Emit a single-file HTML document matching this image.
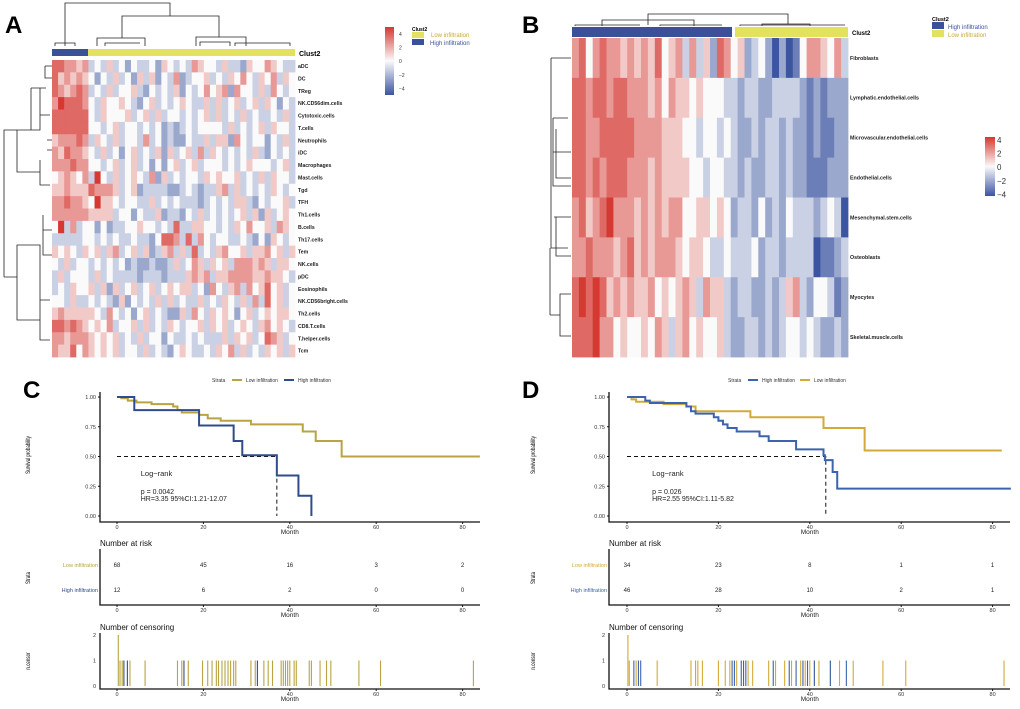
<!DOCTYPE html>
<html><head><meta charset="utf-8"><style>
body{margin:0;background:#fff;}
svg{display:block;font-family:"Liberation Sans",sans-serif;}
</style></head><body>
<svg id="fig" width="1020" height="709" viewBox="0 0 1020 709">
<g id="gA"></g>
<g id="gB"></g>
<g id="gC"></g>
<g id="gD"></g>
</svg>
<script>
// ---------- DATA ----------
const rowsA = ["aDC","DC","TReg","NK.CD56dim.cells","Cytotoxic.cells","T.cells","Neutrophils","iDC","Macrophages","Mast.cells","Tgd","TFH","Th1.cells","B.cells","Th17.cells","Tem","NK.cells","pDC","Eosinophils","NK.CD56bright.cells","Th2.cells","CD8.T.cells","T.helper.cells","Tcm"];
// digit 0..8 => z-score -4..4
const valsA = [
"7766563435342433425434365443533254465433",
"7565654243534253524362344534354643546354",
"7656763435344532434352434645626443536434",
"6877764354454324534345433535345345354243",
"7777774354445345353443434535343534334353",
"7777774434534434342323434444353434535443",
"5666763543534436342322433535526434424353",
"6576654353424534352534536354343435324343",
"6667664434534534242453453444343454443453",
"4565463843534543625343443545445343535443",
"5565557666534523333223432335635343435434",
"6676654855434433534343332343435532434453",
"6666665555344243352332435343434535253454",
"4836344242334454434373355443435464453654",
"3333344343433433247763736434433432425434",
"5454354535634535235635373435644535564535",
"4353443434342322322353465354536665653554",
"3534443534333323332333565635566665565543",
"3435445352534534534545534264356364574534",
"4435334343252434353534335343543536374534",
"5655555436434245343225364354542453454554",
"7767654546344535343543445354534543564543",
"6656665454534353442433434333535453476534",
"6557465454534435343245433435463534354535"];
const rowsB = ["Fibroblasts","Lymphatic.endothelial.cells","Microvascular.endothelial.cells","Endothelial.cells","Mesenchymal.stem.cells","Osteoblasts","Myocytes","Skeletal.muscle.cells"];
const valsB = [
"6746766565657456363527645234202014665463",
"7767767766656465545444332332233332121222",
"7766777776666555443443432232332322121122",
"7767677766656555544344332322332322111222",
"6756786665656566445545423324232433323430",
"6676665675656665455433433342332333301123",
"7878756565564545653655323322323563244312",
"7778664544546535645445322332323443432232"];
// Survival data (month, survival)
const cLowT = [0,1,2.5,4.5,8,13,14,15,19,21,24,31,43,46,52];
const cLowS = [1,0.99,0.97,0.955,0.94,0.92,0.89,0.87,0.85,0.82,0.80,0.77,0.71,0.63,0.50];
const cHighT = [0,4,19,27,29,37,42,45];
const cHighS = [1,0.89,0.76,0.63,0.51,0.34,0.17,0.0];
const dHighT = [0,4,5,13,14,15,19,20,21,22,24,29,31,37,43,43.3,45,46];
const dHighS = [1,0.97,0.95,0.92,0.88,0.86,0.83,0.80,0.77,0.74,0.71,0.67,0.63,0.56,0.51,0.47,0.37,0.23];
const dLowT = [0,1,2,8,13,15,27,43,52];
const dLowS = [1,0.98,0.96,0.94,0.92,0.88,0.83,0.74,0.55];
const riskTicks = [0,20,40,60,80];
const cRiskLow = [68,45,16,3,2];
const cRiskHigh = [12,6,2,0,0];
const dRiskLow = [34,23,8,1,1];
const dRiskHigh = [46,28,10,2,1];
const cCensLow = [[0.3,2],[0.7,1],[1.2,1],[3,1],[6.5,1],[14,1],[15,1],[16.5,1],[19.8,1],[21,1],[22,1],[23,1],[23.5,1],[24.3,1],[25,1],[25.7,1],[26.3,1],[27,1],[27.5,1],[31,1],[32,1],[34,1],[35,1],[36,1],[38,1],[38.5,1],[39,1],[39.5,1],[40,1],[41,1],[41.5,1],[44.5,1],[45,1],[47,1],[48.5,1],[49.5,1],[56,1],[61,1],[82.5,1]];
const cCensHigh = [[1.6,1],[2.4,1],[15.5,1],[32.5,1]];
const dCensLow = [[0.2,2],[0.5,1],[2,1],[6.6,1],[14,1],[15,1],[15.5,1],[16.5,1],[20,1],[21.5,1],[22.5,1],[24,1],[26.5,1],[27.5,1],[31,1],[32.5,1],[34.5,1],[36,1],[38,1],[39,1],[40,1],[41,1],[42,1],[44.5,1],[46.5,1],[49.5,1],[56,1],[61,1],[82.5,1]];
const dCensHigh = [[1.5,1],[2.5,1],[3,1],[23,1],[23.5,1],[25,1],[25.5,1],[26,1],[32,1],[35.5,1],[37,1],[38.5,1],[39.5,1],[41,1],[44.5,1],[48,1]];

// ---------- HELPERS ----------
const NS="http://www.w3.org/2000/svg";
function mk(p,tag,at,txt){const e=document.createElementNS(NS,tag);for(const k in at)e.setAttribute(k,at[k]);if(txt!==undefined)e.textContent=txt;p.appendChild(e);return e;}
function col(v){ // v -4..4
  const lo=[59,85,160],hi=[214,56,50],w=[250,250,250];
  let t=Math.max(-1,Math.min(1,v/4)),a=t<0?lo:hi,f=Math.abs(t);
  return "rgb("+w.map((c,i)=>Math.round(c+(a[i]-c)*f)).join(",")+")";
}
function heat(g,rows,vals,x0,y0,w,h,lx,fs){
  const rh=h/rows.length;
  rows.forEach((r,i)=>{
    const s=vals[i],cw=w/s.length;
    for(let j=0;j<s.length;j++){
      const c=mk(g,"rect",{x:x0+j*cw,y:y0+i*rh,width:cw+0.4,height:rh+0.4,fill:col(+s[j]-4)});
      
      
    }
    const t=mk(g,"text",{x:lx,y:y0+i*rh+rh/2+fs*0.35,"font-size":fs,"font-weight":"bold",fill:"#222"},r);
    
    
  });
}
function lines(g,d,name){const p=mk(g,"path",{d:d,stroke:"#222","stroke-width":0.8,fill:"none"});}

// ---------- PANEL A ----------
const gA=document.getElementById("gA");
mk(gA,"text",{x:5,y:33,"font-size":24,"font-weight":"bold"},"A");
mk(gA,"rect",{x:52,y:49,width:36,height:7,fill:"#3A5199"});
mk(gA,"rect",{x:88,y:49,width:207,height:7,fill:"#E2E25E"});
mk(gA,"text",{x:299,y:56,"font-size":7,"font-weight":"bold"},"Clust2");
heat(gA,rowsA,valsA,52,60,243,297,298,5.2);
lines(gA,"M65 46V3H170V16 M122 38V16H219V37 M97 46V38H145V46 M196 46V37H246V46 M55 46V43H75V46 M105 46V43H140 M200 46V42H230V46 M235 46V43H290V46",'column-dendrogram');
lines(gA,"M4 277V130H31V88 M31 88H46 M31 88V103 M17 130V172H40 M17 130H40V88 M40 100V115H50 M40 160V185H50 M4 277H17V245H40V300H50 M17 245V320H40 M40 300V340H50 M45 66H52 M45 66V78H52 M47 140H52 M47 150H52 M43 215V255H52 M43 230H52",'row-dendrogram');
// colorbar A
const gradA=mk(gA,"defs",{});
const lgA=mk(gradA,"linearGradient",{id:"cbA",x1:0,y1:0,x2:0,y2:1});
[[0,col(4)],[0.5,col(0)],[1,col(-4)]].forEach(s=>mk(lgA,"stop",{offset:s[0],"stop-color":s[1]}));
mk(gA,"rect",{x:385,y:27,width:9,height:68,fill:"url(#cbA)"});
["4","2","0","−2","−4"].forEach((t,i)=>mk(gA,"text",{x:399,y:36+i*13.6,"font-size":5,fill:"#333"},t));
mk(gA,"text",{x:412,y:31,"font-size":5,"font-weight":"bold"},"Clust2");
mk(gA,"rect",{x:412,y:32,width:12,height:6,fill:"#E2E25E"});
mk(gA,"rect",{x:412,y:39,width:12,height:6,fill:"#3A5199"});
mk(gA,"text",{x:431,y:37,"font-size":6,fill:"#C8A838"},"Low infiltration");
mk(gA,"text",{x:430,y:45,"font-size":6,fill:"#3A5199"},"High infiltration");

// ---------- PANEL B ----------
const gB=document.getElementById("gB");
mk(gB,"text",{x:522,y:33,"font-size":24,"font-weight":"bold"},"B");
mk(gB,"rect",{x:572,y:27,width:160,height:10,fill:"#3A5199"});
mk(gB,"rect",{x:735,y:27,width:113,height:10,fill:"#E2E25E"});
mk(gB,"text",{x:852,y:35,"font-size":6,"font-weight":"bold"},"Clust2");
heat(gB,rowsB,valsB,572,38,276,319,850,5.3);
lines(gB,"M648 25V14H788V24 M602 26V20H694V26 M762 26V24H810V26 M575 26V25H640 M660 26V25H722 M740 26V25H845",'column-dendrogram');
lines(gB,"M551 58V248H568 M551 58H571 M553 118V186H571 M553 118H568 M553 152H571 M556 129V178H571 M556 217V256H571 M554 217H571 M550 315H560V294H571 M560 315V336H571 M550 248V315",'row-dendrogram');
const gradB=mk(gB,"defs",{});
const lgB=mk(gradB,"linearGradient",{id:"cbB",x1:0,y1:0,x2:0,y2:1});
[[0,col(4)],[0.5,col(0)],[1,col(-4)]].forEach(s=>mk(lgB,"stop",{offset:s[0],"stop-color":s[1]}));
mk(gB,"rect",{x:985,y:137,width:10,height:59,fill:"url(#cbB)"});
["4","2","0","−2","−4"].forEach((t,i)=>mk(gB,"text",{x:997,y:143+i*13.6,"font-size":8,fill:"#333"},t));
mk(gB,"text",{x:932,y:21,"font-size":5.5,"font-weight":"bold"},"Clust2");
mk(gB,"rect",{x:932,y:22,width:12,height:7,fill:"#3A5199"});
mk(gB,"rect",{x:932,y:30,width:12,height:7,fill:"#E2E25E"});
mk(gB,"text",{x:948,y:29,"font-size":6,fill:"#3A5199"},"High infiltration");
mk(gB,"text",{x:948,y:37,"font-size":6,fill:"#C8A838"},"Low infiltration");

// ---------- KM PANELS ----------
function km(g,o){
  const X=t=>o.x0+t*o.px, Y=s=>516-s*119;
  mk(g,"text",{x:o.lx,y:398,"font-size":24,"font-weight":"bold"},o.letter);
  // legend
  mk(g,"text",{x:o.legX,y:382,"font-size":5,fill:"#333"},"Strata");
  o.leg.forEach((L,i)=>{
    const bx=o.legX+20+i*52;
    mk(g,"line",{x1:bx,y1:380,x2:bx+10,y2:380,stroke:L[1],"stroke-width":2});
    mk(g,"text",{x:bx+14,y:382,"font-size":5,fill:"#333"},L[0]);
  });
  // axes
  mk(g,"path",{d:`M${o.ax} 392V522H${o.right}`,stroke:"#111","stroke-width":1.3,fill:"none"});
  [0,0.25,0.5,0.75,1].forEach(s=>{
    mk(g,"line",{x1:o.ax-2,y1:Y(s),x2:o.ax,y2:Y(s),stroke:"#111"});
    mk(g,"text",{x:o.ax-4,y:Y(s)+2,"font-size":5.5,"text-anchor":"end",fill:"#333"},s.toFixed(2));
  });
  riskTicks.forEach(t=>{
    [[522,527],[605,610],[689,694]].forEach(r=>{
      mk(g,"line",{x1:X(t),y1:r[0],x2:X(t),y2:r[0]+2,stroke:"#111"});
      mk(g,"text",{x:X(t),y:r[1]+2,"font-size":5.5,"text-anchor":"middle",fill:"#333"},t);
    });
  });
  [534,617,701].forEach(y=>mk(g,"text",{x:X(40),y:y,"font-size":6.5,"text-anchor":"middle",fill:"#222"},"Month"));
  mk(g,"text",{x:0,y:0,"font-size":6,transform:`translate(${o.yl},455) rotate(-90) scale(0.75,1)`,"text-anchor":"middle"},"Survival probability");
  // median
  mk(g,"path",{d:`M${X(0)} ${Y(0.5)}H${X(o.med)}V${Y(0)}`,stroke:"#111","stroke-width":1,"stroke-dasharray":"4,3",fill:"none"});
  // curves
  o.curves.forEach(c=>{
    let d=`M${X(c.t[0])} ${Y(c.s[0])}`;
    for(let i=1;i<c.t.length;i++) d+=`H${X(c.t[i])}V${Y(c.s[i])}`;
    d+=`H${X(c.end)}`;
    const p=mk(g,"path",{d:d,stroke:c.col,"stroke-width":2,fill:"none"});
    
    
  });
  mk(g,"text",{x:X(5.5),y:476,"font-size":7.5,fill:"#222"},"Log−rank");
  mk(g,"text",{x:X(5.5),y:494,"font-size":7,fill:"#222"},o.p);
  mk(g,"text",{x:X(5.5),y:501,"font-size":7,fill:"#222"},o.hr);
  // risk table
  mk(g,"text",{x:o.ax,y:546,"font-size":8,fill:"#111"},"Number at risk");
  mk(g,"path",{d:`M${o.ax} 549V605H${o.right}`,stroke:"#111","stroke-width":1.3,fill:"none"});
  mk(g,"text",{x:0,y:0,"font-size":6,transform:`translate(${o.yl},578) rotate(-90) scale(0.75,1)`,"text-anchor":"middle"},"Strata");
  [[o.rowLow,o.riskLow,"Low infiltration",o.gold],[o.rowHigh,o.riskHigh,"High infiltration",o.blue]].forEach(r=>{
    mk(g,"text",{x:o.ax-2,y:r[0]+2,"font-size":5.5,"text-anchor":"end",fill:r[3]},r[2]);
    r[1].forEach((n,i)=>mk(g,"text",{x:X(riskTicks[i]),y:r[0]+2,"font-size":6,"text-anchor":"middle",fill:"#222"},n));
  });
  // censoring
  mk(g,"text",{x:o.ax,y:630,"font-size":8,fill:"#111"},"Number of censoring");
  mk(g,"path",{d:`M${o.ax} 633V689H${o.right}`,stroke:"#111","stroke-width":1.3,fill:"none"});
  mk(g,"text",{x:0,y:0,"font-size":6,transform:`translate(${o.yl},661) rotate(-90) scale(0.75,1)`,"text-anchor":"middle"},"n.censor");
  const CY=n=>686-n*25.5;
  [0,1,2].forEach(n=>mk(g,"text",{x:o.ax-4,y:CY(n)+2,"font-size":5.5,"text-anchor":"end",fill:"#333"},n));
  [[o.censLow,o.gold],[o.censHigh,o.blue]].forEach(cs=>cs[0].forEach(c=>{
    const b=mk(g,"line",{x1:X(c[0]),y1:CY(0),x2:X(c[0]),y2:CY(c[1]),stroke:cs[1],"stroke-width":1.1});
    
    
  }));
}
const goldC="#B9A342",blueC="#2F4C8C",goldD="#D2AA38",blueD="#3B63AE";
km(document.getElementById("gC"),{letter:"C",lx:23,x0:117,px:4.32,ax:100,right:480,yl:30,legX:212,
  leg:[["Low infiltration",goldC],["High infiltration",blueC]],med:37,gold:goldC,blue:blueC,
  curves:[{t:cLowT,s:cLowS,end:84,col:goldC,name:"low-infiltration-curve"},{t:cHighT,s:cHighS,end:45,col:blueC,name:"high-infiltration-curve"}],
  p:"p = 0.0042",hr:"HR=3.35  95%CI:1.21-12.07",rowLow:565,rowHigh:590,riskLow:cRiskLow,riskHigh:cRiskHigh,censLow:cCensLow,censHigh:cCensHigh});
km(document.getElementById("gD"),{letter:"D",lx:522,x0:627,px:4.57,ax:609,right:1010,yl:535,legX:728,
  leg:[["High infiltration",blueD],["Low infiltration",goldD]],med:43.5,gold:goldD,blue:blueD,
  curves:[{t:dLowT,s:dLowS,end:82,col:goldD,name:"low-infiltration-curve"},{t:dHighT,s:dHighS,end:84,col:blueD,name:"high-infiltration-curve"}],
  p:"p = 0.026",hr:"HR=2.55  95%CI:1.11-5.82",rowLow:565,rowHigh:590,riskLow:dRiskLow,riskHigh:dRiskHigh,censLow:dCensLow,censHigh:dCensHigh});
</script>
</body></html>
